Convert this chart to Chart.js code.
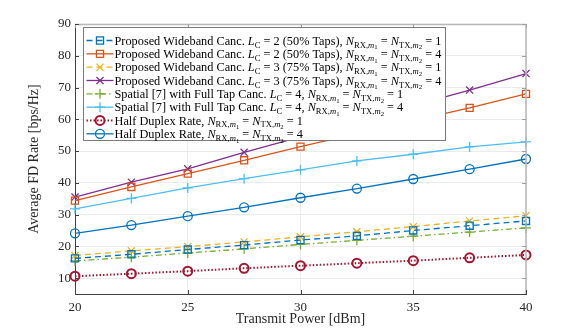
<!DOCTYPE html>
<html lang="en">
<head>
<meta charset="UTF-8">
<title>Average FD Rate</title>
<script src="https://cdn.jsdelivr.net/npm/chart.js"></script>
<style>
  body { margin: 0; background: #fff; }
</style>
</head>
<body>
<canvas id="grafico" width="581" height="332"></canvas>
<script>
// eixo x (potencia de transmissao) e marcas dos eixos
const potencias = [20, 22.5, 25, 27.5, 30, 32.5, 35, 37.5, 40]
const ticksX = [20, 25, 30, 35, 40]
const ticksY = [10, 20, 30, 40, 50, 60, 70, 80, 90]

// series
const propL2N1 = [16.2, 17.5, 19.0, 20.4, 22.0, 23.3, 25.0, 26.5, 28.0]
const propL2N4 = [34.4, 38.7, 42.9, 47.1, 51.4, 55.5, 59.6, 63.6, 68.0]
const propL3N1 = [17.1, 18.6, 19.9, 21.4, 23.0, 24.6, 26.2, 28.0, 29.6]
const propL3N4 = [35.5, 40.2, 44.4, 49.6, 54.5, 59.3, 64.3, 69.2, 74.4]
const espN1 = [15.4, 16.6, 17.9, 19.2, 20.6, 21.9, 23.2, 24.5, 25.8]
const espN4 = [31.8, 35.1, 38.4, 41.3, 44.1, 46.9, 49.0, 51.3, 52.9]
const hdN1 = [10.6, 11.4, 12.2, 13.1, 13.9, 14.7, 15.5, 16.4, 17.3]
const hdN4 = [24.1, 26.7, 29.5, 32.3, 35.3, 38.2, 41.2, 44.3, 47.5]

// ~ liga/desliga italico, _{ } = subscrito
const nomes = [
    'Proposed Wideband Canc. ~L~_{C} = 2 (50% Taps), ~N~_{RX,~m~_{1}} = ~N~_{TX,~m~_{2}} = 1',
    'Proposed Wideband Canc. ~L~_{C} = 2 (50% Taps), ~N~_{RX,~m~_{1}} = ~N~_{TX,~m~_{2}} = 4',
    'Proposed Wideband Canc. ~L~_{C} = 3 (75% Taps), ~N~_{RX,~m~_{1}} = ~N~_{TX,~m~_{2}} = 1',
    'Proposed Wideband Canc. ~L~_{C} = 3 (75% Taps), ~N~_{RX,~m~_{1}} = ~N~_{TX,~m~_{2}} = 4',
    'Spatial [7] with Full Tap Canc. ~L~_{C} = 4, ~N~_{RX,~m~_{1}} = ~N~_{TX,~m~_{2}} = 1',
    'Spatial [7] with Full Tap Canc. ~L~_{C} = 4, ~N~_{RX,~m~_{1}} = ~N~_{TX,~m~_{2}} = 4',
    'Half Duplex Rate, ~N~_{RX,~m~_{1}} = ~N~_{TX,~m~_{2}} = 1',
    'Half Duplex Rate, ~N~_{RX,~m~_{1}} = ~N~_{TX,~m~_{2}} = 4'
]

const series = [propL2N1, propL2N4, propL3N1, propL3N4, espN1, espN4, hdN1, hdN4]
const cores = ['#0072BD', '#D95319', '#EDB120', '#7E2F8E', '#77AC30', '#4DBEEE', '#A2142F', '#0072BD']
const tracos = [[6, 4], [], [6, 4], [], [6, 3, 1.5, 3], [], [1.5, 2], []]
const marcadores = ['rect', 'rect', 'crossRot', 'crossRot', 'cross', 'cross', 'circle', 'circle']
const raios = [5, 5, 5, 5, 5, 5, 4.5, 4.5]
const espessuras = [1.3, 1.3, 1.3, 1.3, 1.3, 1.3, 2, 1.3]

const SERIF = '"Liberation Serif", "DejaVu Serif", serif'

// escreve texto com italico e subscritos; devolve a largura
function textoRico(ctx, str, x, y, size, desenhar) {
    let italico = false, nivel = 0, cx = x, buf = ''
    const tam = [size, size * 0.7, size * 0.55]
    const desl = [0, size * 0.22, size * 0.36]
    const flush = () => {
        if (!buf) return
        ctx.font = (italico ? 'italic ' : '') + tam[nivel] + 'px ' + SERIF
        if (desenhar) ctx.fillText(buf, cx, y + desl[nivel])
        cx += ctx.measureText(buf).width
        buf = ''
    }
    for (let i = 0; i < str.length; i++) {
        const c = str[i]
        if (c === '~') { flush(); italico = !italico }
        else if (c === '_' && str[i + 1] === '{') { flush(); nivel++; i++ }
        else if (c === '}') { flush(); nivel-- }
        else buf += c
    }
    flush()
    return cx - x
}

function marcador(ctx, tipo, x, y, r) {
    ctx.beginPath()
    if (tipo === 'rect') {
        const s = r * Math.SQRT1_2
        ctx.rect(x - s, y - s, 2 * s, 2 * s)
    } else if (tipo === 'circle') {
        ctx.arc(x, y, r, 0, Math.PI * 2)
    } else if (tipo === 'cross') {
        ctx.moveTo(x - r, y); ctx.lineTo(x + r, y)
        ctx.moveTo(x, y - r); ctx.lineTo(x, y + r)
    } else {
        const s = r * Math.SQRT1_2
        ctx.moveTo(x - s, y - s); ctx.lineTo(x + s, y + s)
        ctx.moveTo(x - s, y + s); ctx.lineTo(x + s, y - s)
    }
    ctx.stroke()
}

const moldura = {
    id: 'moldura',
    afterDraw(chart) {
        const { ctx, chartArea: a, scales: { x, y } } = chart
        ctx.save()
        // bordas de cima e da direita
        ctx.strokeStyle = '#b8b8b8'
        ctx.lineWidth = 1.5
        ctx.beginPath()
        ctx.moveTo(a.left, a.top + 0.5)
        ctx.lineTo(a.right, a.top + 0.5)
        ctx.lineTo(a.right, a.bottom)
        ctx.stroke()

        // marcas para dentro
        ctx.lineWidth = 1
        ticksX.forEach(v => {
            const px = Math.round(x.getPixelForValue(v)) + 0.5
            ctx.strokeStyle = '#404040'
            ctx.beginPath(); ctx.moveTo(px, a.bottom); ctx.lineTo(px, a.bottom - 4); ctx.stroke()
            ctx.strokeStyle = '#a0a0a0'
            ctx.beginPath(); ctx.moveTo(px, a.top); ctx.lineTo(px, a.top + 4); ctx.stroke()
        })
        ticksY.forEach(v => {
            const py = Math.round(y.getPixelForValue(v)) + 0.5
            ctx.strokeStyle = '#404040'
            ctx.beginPath(); ctx.moveTo(a.left, py); ctx.lineTo(a.left + 4, py); ctx.stroke()
            ctx.strokeStyle = '#a0a0a0'
            ctx.beginPath(); ctx.moveTo(a.right, py); ctx.lineTo(a.right - 4, py); ctx.stroke()
        })

        // legenda
        const fs = 12.3
        const lx = Math.round(a.left + 7.5) + 0.5
        const ly = Math.round(a.top + 2.5) + 0.5
        const passo = 13.33
        const larg = Math.max(...nomes.map(n => textoRico(ctx, n, 0, 0, fs, false)))
        const w = Math.round(31 + larg + 4)
        const h = 113
        ctx.fillStyle = '#fff'
        ctx.fillRect(lx, ly, w, h)
        ctx.strokeStyle = '#7a7a7a'
        ctx.lineWidth = 1
        ctx.strokeRect(lx, ly, w, h)

        nomes.forEach((n, i) => {
            const cy = ly + 13 + i * passo
            ctx.strokeStyle = cores[i]
            ctx.lineWidth = espessuras[i]
            ctx.setLineDash(tracos[i])
            ctx.beginPath(); ctx.moveTo(lx + 3, cy); ctx.lineTo(lx + 30, cy); ctx.stroke()
            ctx.setLineDash([])
            marcador(ctx, marcadores[i], lx + 16.5, cy, raios[i])
            ctx.fillStyle = '#000'
            ctx.textBaseline = 'alphabetic'
            textoRico(ctx, n, lx + 31, cy + fs * 0.35, fs, true)
        })
        ctx.restore()
    }
}

const datasets = series.map((vals, i) => ({
    label: nomes[i],
    data: vals.map((v, j) => ({ x: potencias[j], y: v })),
    borderColor: cores[i],
    backgroundColor: 'rgba(0,0,0,0)',
    borderWidth: espessuras[i],
    borderDash: tracos[i],
    pointStyle: marcadores[i],
    pointRadius: raios[i],
    pointBorderWidth: espessuras[i],
    pointBorderColor: cores[i],
    pointBackgroundColor: 'rgba(0,0,0,0)',
    tension: 0,
    fill: false,
    clip: false
}))

const ctx = document.getElementById('grafico')

let grafico = new Chart(ctx, {
    type: 'line',
    data: { datasets: datasets },
    options: {
        responsive: false,
        animation: false,
        layout: { padding: { top: 24, right: 55, left: 0, bottom: 0 } },
        plugins: { legend: { display: false }, tooltip: { enabled: false } },
        scales: {
            x: {
                type: 'linear',
                min: 20,
                max: 40,
                afterBuildTicks: s => { s.ticks = ticksX.map(v => ({ value: v })) },
                afterFit: s => { s.height = 38 },
                grid: { color: '#ebebeb', drawTicks: false },
                border: { color: '#404040', width: 1 },
                ticks: { padding: 6, color: '#262626', font: { family: SERIF, size: 13 }, maxRotation: 0 },
                title: {
                    display: true, text: 'Transmit Power [dBm]', color: '#262626',
                    font: { family: SERIF, size: 14 }, padding: { bottom: 4 }
                }
            },
            y: {
                min: 5,
                max: 90,
                afterBuildTicks: s => { s.ticks = ticksY.map(v => ({ value: v })) },
                afterFit: s => { s.width = 75 },
                grid: { color: '#ebebeb', drawTicks: false },
                border: { color: '#404040', width: 1 },
                ticks: { padding: 4, color: '#262626', font: { family: SERIF, size: 13 } },
                title: {
                    display: true, text: 'Average FD Rate [bps/Hz]', color: '#262626',
                    font: { family: SERIF, size: 14 }, padding: { top: 26 }
                }
            }
        }
    },
    plugins: [moldura]
})
</script>
</body>
</html>
